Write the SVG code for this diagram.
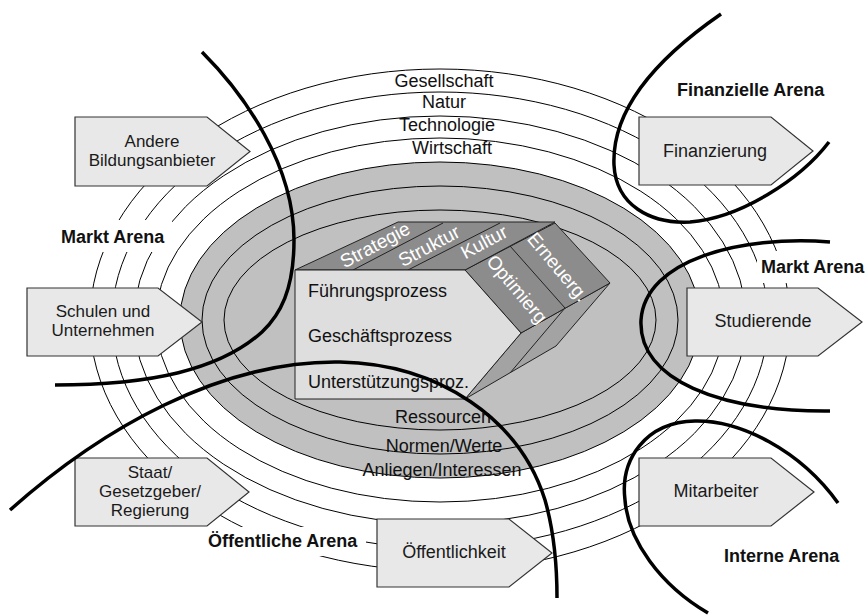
<svg xmlns="http://www.w3.org/2000/svg" width="868" height="616" viewBox="0 0 868 616">
  <style>
    text { font-family: "Liberation Sans", Arial, sans-serif; font-size: 18px; fill: #111; }
    .ring { fill: none; stroke: #000; stroke-width: 1; }
    .core { fill: #c0c0c0; stroke: #000; stroke-width: 1; }
    .mid { text-anchor: middle; }
    .node path { fill: #e8e8e8; stroke: #333; stroke-width: 1.2; }
    .node text { text-anchor: middle; fill: #1a1a1a; }
    .node text.ml { font-size: 17px; }
    .arena { font-weight: bold; }
    .bg { fill: #fff; }
    .boundary { fill: none; stroke: #000; stroke-width: 3.5; }
    .face { stroke: #222; stroke-width: 1; stroke-linejoin: round; }
    .front { fill: #dedede; }
    .top { fill: #8c8c8c; }
    .low { fill: #a3a3a3; }
    .edge { fill: none; stroke: #222; stroke-width: 1; }
    .onface { fill: #fff; font-size: 19px; text-anchor: middle; dominant-baseline: central; }
  </style>

  <!-- environment rings -->
  <g id="environment">
    <ellipse class="ring" cx="440" cy="320" rx="350" ry="251"/>
    <ellipse class="ring" cx="440" cy="320" rx="328" ry="228"/>
    <ellipse class="ring" cx="440" cy="320" rx="306" ry="204"/>
    <ellipse class="ring" cx="440" cy="320" rx="284" ry="182"/>
    <text class="mid" x="444" y="87">Gesellschaft</text>
    <text class="mid" x="444" y="108">Natur</text>
    <text class="mid" x="447" y="131">Technologie</text>
    <text class="mid" x="452" y="154">Wirtschaft</text>
  </g>

  <!-- stakeholder core -->
  <g id="core">
    <ellipse class="core" cx="440" cy="320" rx="260" ry="158"/>
    <ellipse class="ring" cx="440" cy="320" rx="238" ry="134"/>
    <ellipse class="ring" cx="440" cy="320" rx="216" ry="110"/>
    <text class="mid" x="443" y="423">Ressourcen</text>
    <text class="mid" x="444" y="452">Normen/Werte</text>
    <text class="mid" x="442" y="476">Anliegen/Interessen</text>
  </g>

  <!-- process block -->
  <g id="process-block">
    <path class="face low" d="M521,333 L610,283 L556,346 L465,399 Z"/>
    <path class="edge" d="M565,308 L510,373"/>
    <path class="face top" d="M465,270 L555,223 L610,283 L521,333 Z"/>
    <path class="edge" d="M510,246 L565,308"/>
    <path class="face top" d="M295,270 L398,222 H555 L465,270 Z"/>
    <path class="edge" d="M353,270 L443,223 M408,270 L500,223"/>
    <path class="face front" d="M295,270 H465 L521,333 L465,399 H295 Z"/>
    <text class="onface" transform="translate(375,245) rotate(-28)">Strategie</text>
    <text class="onface" transform="translate(429,246) rotate(-28)">Struktur</text>
    <text class="onface" transform="translate(484,242) rotate(-28)">Kultur</text>
    <text class="onface" transform="translate(517,289) rotate(50)">Optimierg</text>
    <text class="onface" transform="translate(558,267) rotate(50)">Erneuerg.</text>
    <text x="308" y="297">Führungsprozess</text>
    <text x="308" y="342">Geschäftsprozess</text>
    <text x="308" y="388">Unterstützungsproz.</text>
  </g>

  <!-- stakeholders -->
  <g id="node-andere" class="node">
    <path d="M75,117 H207 L250,151.5 L207,186 H75 Z"/>
    <text class="ml" x="152" y="147">Andere</text>
    <text class="ml" x="152" y="166">Bildungsanbieter</text>
  </g>
  <g id="node-finanzierung" class="node">
    <path d="M639,117 H771 L813,151 L771,185 H639 Z"/>
    <text x="715" y="157">Finanzierung</text>
  </g>
  <g id="node-schulen" class="node">
    <path d="M27,288 H158 L202,322 L158,356 H27 Z"/>
    <text class="ml" x="103" y="317">Schulen und</text>
    <text class="ml" x="103" y="336">Unternehmen</text>
  </g>
  <g id="node-studierende" class="node">
    <path d="M687,288 H818 L862,322 L818,356 H687 Z"/>
    <text x="763" y="327">Studierende</text>
  </g>
  <g id="node-staat" class="node">
    <path d="M75,458 H207 L249,492 L207,526 H75 Z"/>
    <text class="ml" x="150" y="478">Staat/</text>
    <text class="ml" x="150" y="497">Gesetzgeber/</text>
    <text class="ml" x="150" y="516">Regierung</text>
  </g>
  <g id="node-mitarbeiter" class="node">
    <path d="M639,458 H771 L814,492 L771,526 H639 Z"/>
    <text x="716" y="497">Mitarbeiter</text>
  </g>
  <g id="node-oeffentlichkeit" class="node">
    <path d="M377,519 H509 L552,553 L509,587 H377 Z"/>
    <text x="454" y="558">Öffentlichkeit</text>
  </g>

  <!-- arena labels -->
  <g id="arena-labels">
    <rect class="bg" x="55" y="220" width="117" height="32"/>
    <text class="arena" x="61" y="243">Markt Arena</text>
    <rect class="bg" x="757" y="251" width="111" height="32"/>
    <text class="arena" x="761" y="273">Markt Arena</text>
    <text class="arena" x="677" y="96">Finanzielle Arena</text>
    <text class="arena" x="724" y="562">Interne Arena</text>
    <rect class="bg" x="203" y="527" width="163" height="29"/>
    <text class="arena" x="208" y="547">Öffentliche Arena</text>
  </g>

  <!-- arena boundaries -->
  <g id="connectors">
    <path class="boundary" d="M202,52 C245,95 294,165 294,240 C294,290 280,315 262,332 C220,370 150,385 55,385"/>
    <path class="boundary" d="M10,510 C100,430 220,360 340,362 C440,364 520,420 545,500 C555,535 557,570 557,598"/>
    <path class="boundary" d="M721,14 C640,70 612,120 614,165 C616,205 650,224 690,222 C740,218 800,180 829,142"/>
    <path class="boundary" d="M830,242 C740,235 645,260 641,320 C638,380 720,412 830,411"/>
    <path class="boundary" d="M838,503 C800,450 740,420 695,421 C645,422 620,460 625,500 C628,540 660,585 708,613"/>
  </g>
</svg>
